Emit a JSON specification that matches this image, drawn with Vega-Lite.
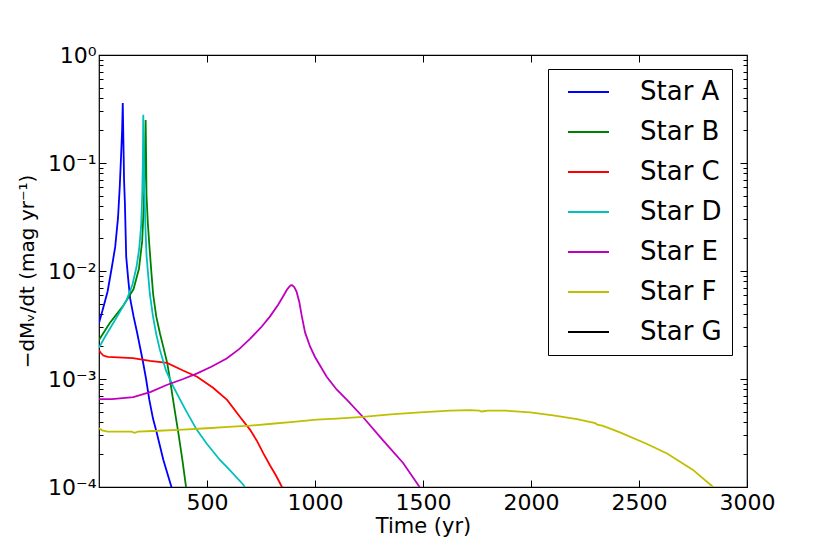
{
  "$schema": "https://vega.github.io/schema/vega-lite/v6.json",
  "width": 648,
  "height": 432,
  "autosize": {"type": "none"},
  "padding": {"left": 99, "top": 55, "right": 83, "bottom": 67},
  "background": "#ffffff",
  "config": {
    "font": "DejaVu Sans",
    "view": {"stroke": "#000000", "strokeWidth": 1.2},
    "axis": {
      "domain": false,
      "grid": false,
      "tickColor": "#000000",
      "tickWidth": 1,
      "labelColor": "#000000",
      "labelFont": "DejaVu Sans",
      "labelFontSize": 22,
      "titleFont": "DejaVu Sans",
      "titleFontSize": 21,
      "titleFontWeight": "normal",
      "titleColor": "#000000",
      "labelFlush": false,
      "labelOverlap": false
    },
    "legend": {
      "orient": "none",
      "legendX": 449,
      "legendY": 14,
      "strokeColor": "#000000",
      "fillColor": "#ffffff",
      "padding": 10,
      "symbolType": "stroke",
      "symbolSize": 1681,
      "symbolStrokeWidth": 2,
      "symbolOffset": 9,
      "clipHeight": 26,
      "labelFont": "DejaVu Sans",
      "labelFontSize": 26,
      "labelColor": "#000000",
      "labelOffset": 30,
      "rowPadding": 14
    }
  },
  "data": {
    "values": [
      {"star": "Star A", "time": 0, "rate": 0.0033},
      {"star": "Star A", "time": 20, "rate": 0.0046},
      {"star": "Star A", "time": 40, "rate": 0.0065},
      {"star": "Star A", "time": 60, "rate": 0.011},
      {"star": "Star A", "time": 75, "rate": 0.0167},
      {"star": "Star A", "time": 88, "rate": 0.031},
      {"star": "Star A", "time": 96, "rate": 0.06},
      {"star": "Star A", "time": 102, "rate": 0.114},
      {"star": "Star A", "time": 107, "rate": 0.2},
      {"star": "Star A", "time": 110, "rate": 0.36},
      {"star": "Star A", "time": 113, "rate": 0.16},
      {"star": "Star A", "time": 116, "rate": 0.07},
      {"star": "Star A", "time": 120, "rate": 0.042},
      {"star": "Star A", "time": 126, "rate": 0.0135},
      {"star": "Star A", "time": 135, "rate": 0.0085},
      {"star": "Star A", "time": 144, "rate": 0.0056},
      {"star": "Star A", "time": 160, "rate": 0.0038},
      {"star": "Star A", "time": 177, "rate": 0.00265},
      {"star": "Star A", "time": 202, "rate": 0.0015},
      {"star": "Star A", "time": 218, "rate": 0.001},
      {"star": "Star A", "time": 233, "rate": 0.00064},
      {"star": "Star A", "time": 250, "rate": 0.00043},
      {"star": "Star A", "time": 267, "rate": 0.00032},
      {"star": "Star A", "time": 298, "rate": 0.000178},
      {"star": "Star A", "time": 333, "rate": 0.000104},
      {"star": "Star A", "time": 345, "rate": 0.000085},

      {"star": "Star B", "time": 0, "rate": 0.0023},
      {"star": "Star B", "time": 50, "rate": 0.0033},
      {"star": "Star B", "time": 110, "rate": 0.0047},
      {"star": "Star B", "time": 160, "rate": 0.0068},
      {"star": "Star B", "time": 185, "rate": 0.0105},
      {"star": "Star B", "time": 200, "rate": 0.019},
      {"star": "Star B", "time": 207, "rate": 0.04},
      {"star": "Star B", "time": 212, "rate": 0.09},
      {"star": "Star B", "time": 216, "rate": 0.25},
      {"star": "Star B", "time": 218, "rate": 0.12},
      {"star": "Star B", "time": 220, "rate": 0.05},
      {"star": "Star B", "time": 226, "rate": 0.028},
      {"star": "Star B", "time": 233, "rate": 0.0174},
      {"star": "Star B", "time": 242, "rate": 0.01},
      {"star": "Star B", "time": 251, "rate": 0.006},
      {"star": "Star B", "time": 265, "rate": 0.0038},
      {"star": "Star B", "time": 282, "rate": 0.00265},
      {"star": "Star B", "time": 300, "rate": 0.0019},
      {"star": "Star B", "time": 316, "rate": 0.0014},
      {"star": "Star B", "time": 330, "rate": 0.00095},
      {"star": "Star B", "time": 343, "rate": 0.00064},
      {"star": "Star B", "time": 355, "rate": 0.00045},
      {"star": "Star B", "time": 367, "rate": 0.00032},
      {"star": "Star B", "time": 386, "rate": 0.000178},
      {"star": "Star B", "time": 403, "rate": 0.0001},
      {"star": "Star B", "time": 410, "rate": 0.00008},

      {"star": "Star C", "time": 0, "rate": 0.00185},
      {"star": "Star C", "time": 8, "rate": 0.00175},
      {"star": "Star C", "time": 20, "rate": 0.00165},
      {"star": "Star C", "time": 40, "rate": 0.0016},
      {"star": "Star C", "time": 157, "rate": 0.00156},
      {"star": "Star C", "time": 236, "rate": 0.00147},
      {"star": "Star C", "time": 315, "rate": 0.00141},
      {"star": "Star C", "time": 389, "rate": 0.0012},
      {"star": "Star C", "time": 454, "rate": 0.00105},
      {"star": "Star C", "time": 528, "rate": 0.00083},
      {"star": "Star C", "time": 593, "rate": 0.00064},
      {"star": "Star C", "time": 653, "rate": 0.000445},
      {"star": "Star C", "time": 699, "rate": 0.00034},
      {"star": "Star C", "time": 730, "rate": 0.00027},
      {"star": "Star C", "time": 761, "rate": 0.000205},
      {"star": "Star C", "time": 792, "rate": 0.000158},
      {"star": "Star C", "time": 820, "rate": 0.000127},
      {"star": "Star C", "time": 847, "rate": 0.0001},
      {"star": "Star C", "time": 860, "rate": 0.00009},

      {"star": "Star D", "time": 0, "rate": 0.00195},
      {"star": "Star D", "time": 30, "rate": 0.0025},
      {"star": "Star D", "time": 66, "rate": 0.0033},
      {"star": "Star D", "time": 100, "rate": 0.0043},
      {"star": "Star D", "time": 128, "rate": 0.0054},
      {"star": "Star D", "time": 155, "rate": 0.0075},
      {"star": "Star D", "time": 174, "rate": 0.011},
      {"star": "Star D", "time": 186, "rate": 0.016},
      {"star": "Star D", "time": 195, "rate": 0.026},
      {"star": "Star D", "time": 200, "rate": 0.05},
      {"star": "Star D", "time": 203, "rate": 0.1},
      {"star": "Star D", "time": 205, "rate": 0.28},
      {"star": "Star D", "time": 207, "rate": 0.15},
      {"star": "Star D", "time": 211, "rate": 0.05},
      {"star": "Star D", "time": 215, "rate": 0.025},
      {"star": "Star D", "time": 220, "rate": 0.014},
      {"star": "Star D", "time": 228, "rate": 0.009},
      {"star": "Star D", "time": 236, "rate": 0.006},
      {"star": "Star D", "time": 250, "rate": 0.0038},
      {"star": "Star D", "time": 265, "rate": 0.0026},
      {"star": "Star D", "time": 282, "rate": 0.00186},
      {"star": "Star D", "time": 310, "rate": 0.0012},
      {"star": "Star D", "time": 344, "rate": 0.00085},
      {"star": "Star D", "time": 400, "rate": 0.00052},
      {"star": "Star D", "time": 452, "rate": 0.00034},
      {"star": "Star D", "time": 500, "rate": 0.00025},
      {"star": "Star D", "time": 560, "rate": 0.000178},
      {"star": "Star D", "time": 610, "rate": 0.00014},
      {"star": "Star D", "time": 668, "rate": 0.000105},
      {"star": "Star D", "time": 685, "rate": 0.000093},

      {"star": "Star E", "time": 0, "rate": 0.00065},
      {"star": "Star E", "time": 60, "rate": 0.00065},
      {"star": "Star E", "time": 159, "rate": 0.00068},
      {"star": "Star E", "time": 240, "rate": 0.00076},
      {"star": "Star E", "time": 313, "rate": 0.00088},
      {"star": "Star E", "time": 390, "rate": 0.001},
      {"star": "Star E", "time": 452, "rate": 0.00112},
      {"star": "Star E", "time": 520, "rate": 0.0013},
      {"star": "Star E", "time": 591, "rate": 0.00155},
      {"star": "Star E", "time": 650, "rate": 0.0019},
      {"star": "Star E", "time": 699, "rate": 0.00235},
      {"star": "Star E", "time": 750, "rate": 0.003},
      {"star": "Star E", "time": 792, "rate": 0.0038},
      {"star": "Star E", "time": 830, "rate": 0.0049},
      {"star": "Star E", "time": 852, "rate": 0.0058},
      {"star": "Star E", "time": 872, "rate": 0.0068},
      {"star": "Star E", "time": 885, "rate": 0.0073},
      {"star": "Star E", "time": 893, "rate": 0.0074},
      {"star": "Star E", "time": 904, "rate": 0.0071},
      {"star": "Star E", "time": 915, "rate": 0.0064},
      {"star": "Star E", "time": 927, "rate": 0.0052},
      {"star": "Star E", "time": 938, "rate": 0.0039},
      {"star": "Star E", "time": 954, "rate": 0.0027},
      {"star": "Star E", "time": 977, "rate": 0.002},
      {"star": "Star E", "time": 1000, "rate": 0.0016},
      {"star": "Star E", "time": 1054, "rate": 0.00105},
      {"star": "Star E", "time": 1100, "rate": 0.0008},
      {"star": "Star E", "time": 1148, "rate": 0.00064},
      {"star": "Star E", "time": 1222, "rate": 0.000445},
      {"star": "Star E", "time": 1315, "rate": 0.00027},
      {"star": "Star E", "time": 1408, "rate": 0.000167},
      {"star": "Star E", "time": 1477, "rate": 0.000105},
      {"star": "Star E", "time": 1490, "rate": 0.000095},

      {"star": "Star F", "time": 0, "rate": 0.00035},
      {"star": "Star F", "time": 15, "rate": 0.000335},
      {"star": "Star F", "time": 40, "rate": 0.000325},
      {"star": "Star F", "time": 150, "rate": 0.000325},
      {"star": "Star F", "time": 165, "rate": 0.000318},
      {"star": "Star F", "time": 180, "rate": 0.000325},
      {"star": "Star F", "time": 250, "rate": 0.00033},
      {"star": "Star F", "time": 389, "rate": 0.00034},
      {"star": "Star F", "time": 500, "rate": 0.00035},
      {"star": "Star F", "time": 600, "rate": 0.00036},
      {"star": "Star F", "time": 699, "rate": 0.00037},
      {"star": "Star F", "time": 800, "rate": 0.000385},
      {"star": "Star F", "time": 900, "rate": 0.0004},
      {"star": "Star F", "time": 1008, "rate": 0.00042},
      {"star": "Star F", "time": 1100, "rate": 0.00043},
      {"star": "Star F", "time": 1222, "rate": 0.000445},
      {"star": "Star F", "time": 1350, "rate": 0.00047},
      {"star": "Star F", "time": 1486, "rate": 0.00049},
      {"star": "Star F", "time": 1625, "rate": 0.00051},
      {"star": "Star F", "time": 1718, "rate": 0.000515},
      {"star": "Star F", "time": 1760, "rate": 0.00051},
      {"star": "Star F", "time": 1772, "rate": 0.0005},
      {"star": "Star F", "time": 1800, "rate": 0.00051},
      {"star": "Star F", "time": 1880, "rate": 0.00051},
      {"star": "Star F", "time": 1996, "rate": 0.00049},
      {"star": "Star F", "time": 2102, "rate": 0.00046},
      {"star": "Star F", "time": 2213, "rate": 0.000425},
      {"star": "Star F", "time": 2297, "rate": 0.00039},
      {"star": "Star F", "time": 2310, "rate": 0.000375},
      {"star": "Star F", "time": 2330, "rate": 0.00037},
      {"star": "Star F", "time": 2412, "rate": 0.00032},
      {"star": "Star F", "time": 2537, "rate": 0.00025},
      {"star": "Star F", "time": 2630, "rate": 0.000204},
      {"star": "Star F", "time": 2750, "rate": 0.000144},
      {"star": "Star F", "time": 2843, "rate": 0.0001},
      {"star": "Star F", "time": 2860, "rate": 0.000093}
    ]
  },
  "layer": [
    {
      "mark": {"type": "line", "strokeWidth": 1.8, "clip": true},
      "encoding": {
        "x": {
          "field": "time",
          "type": "quantitative",
          "scale": {"domain": [0, 3000], "nice": false},
          "axis": {
            "orient": "bottom",
            "title": "Time (yr)",
            "format": "d",
            "values": [500, 1000, 1500, 2000, 2500, 3000],
            "tickSize": -7,
            "labelPadding": 12,
            "titlePadding": 2
          }
        },
        "y": {
          "field": "rate",
          "type": "quantitative",
          "scale": {"type": "log", "domain": [0.0001, 1], "nice": false},
          "axis": {
            "orient": "left",
            "title": "−dMᵥ/dt (mag yr⁻¹)",
            "titleFontSize": 20,
            "values": [0.0001, 0.001, 0.01, 0.1, 1],
            "labelExpr": "datum.value >= 0.5 ? '10⁰' : datum.value >= 0.05 ? '10⁻¹' : datum.value >= 0.005 ? '10⁻²' : datum.value >= 0.0005 ? '10⁻³' : '10⁻⁴'",
            "tickSize": -7,
            "labelPadding": 10,
            "titlePadding": 10
          }
        },
        "color": {
          "field": "star",
          "type": "nominal",
          "scale": {
            "domain": ["Star A", "Star B", "Star C", "Star D", "Star E", "Star F", "Star G"],
            "range": ["#0000ff", "#008000", "#ff0000", "#00bfbf", "#bf00bf", "#bfbf00", "#000000"]
          },
          "legend": {"title": null}
        }
      }
    },
    {
      "mark": {"type": "line", "opacity": 0},
      "encoding": {
        "x": {
          "field": "time",
          "type": "quantitative",
          "axis": {"orient": "top", "title": null, "labels": false, "values": [500, 1000, 1500, 2000, 2500], "tickSize": -7}
        },
        "y": {
          "field": "rate",
          "type": "quantitative",
          "axis": {
            "orient": "left",
            "title": null,
            "labels": false,
            "tickSize": -4,
            "values": [0.0002, 0.0003, 0.0004, 0.0005, 0.0006, 0.0007, 0.0008, 0.0009,
                       0.002, 0.003, 0.004, 0.005, 0.006, 0.007, 0.008, 0.009,
                       0.02, 0.03, 0.04, 0.05, 0.06, 0.07, 0.08, 0.09,
                       0.2, 0.3, 0.4, 0.5, 0.6, 0.7, 0.8, 0.9]
          }
        },
        "detail": {"field": "star"}
      }
    },
    {
      "mark": {"type": "line", "opacity": 0},
      "encoding": {
        "x": {"field": "time", "type": "quantitative", "axis": null},
        "y": {
          "field": "rate",
          "type": "quantitative",
          "axis": {"orient": "right", "title": null, "labels": false, "tickSize": -7, "values": [0.001, 0.01, 0.1]}
        },
        "detail": {"field": "star"}
      }
    },
    {
      "mark": {"type": "line", "opacity": 0},
      "encoding": {
        "x": {"field": "time", "type": "quantitative", "axis": null},
        "y": {
          "field": "rate",
          "type": "quantitative",
          "axis": {
            "orient": "right",
            "title": null,
            "labels": false,
            "tickSize": -4,
            "values": [0.0002, 0.0003, 0.0004, 0.0005, 0.0006, 0.0007, 0.0008, 0.0009,
                       0.002, 0.003, 0.004, 0.005, 0.006, 0.007, 0.008, 0.009,
                       0.02, 0.03, 0.04, 0.05, 0.06, 0.07, 0.08, 0.09,
                       0.2, 0.3, 0.4, 0.5, 0.6, 0.7, 0.8, 0.9]
          }
        },
        "detail": {"field": "star"}
      }
    }
  ],
  "resolve": {"axis": {"x": "independent", "y": "independent"}}
}
